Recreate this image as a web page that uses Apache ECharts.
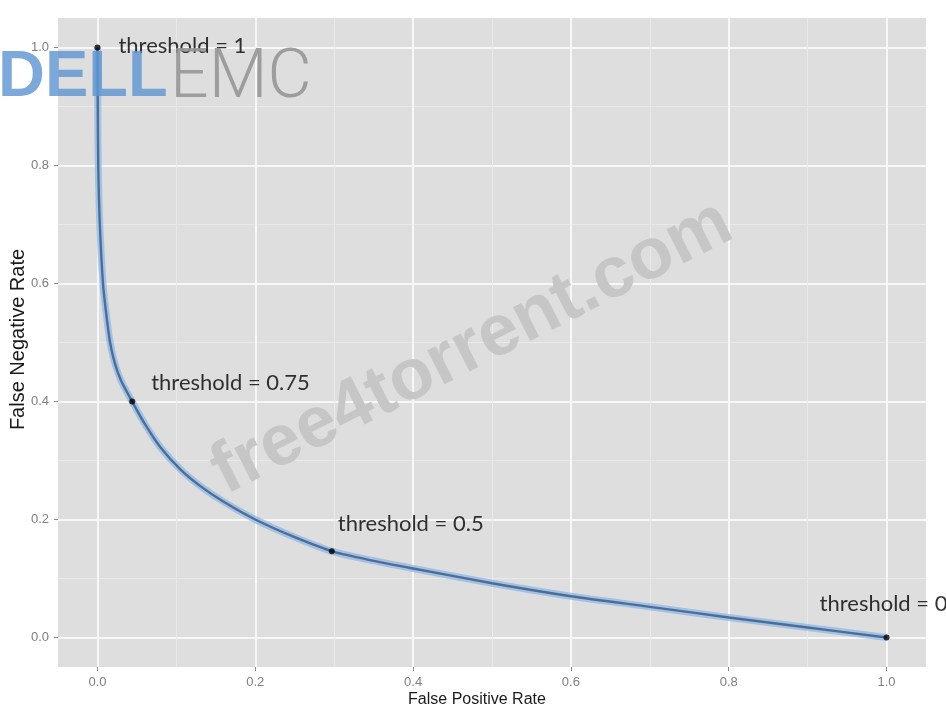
<!DOCTYPE html>
<html>
<head>
<meta charset="utf-8">
<script src="https://cdn.jsdelivr.net/npm/echarts@6/dist/echarts.min.js"></script>
<style>html,body{margin:0;padding:0;background:#fff}#c{width:946px;height:706px}</style>
</head>
<body>
<div id="c"></div>
<script>
// Curve values (False Positive Rate, False Negative Rate)
const fprValues = [0, 0.0004, 0.001, 0.003, 0.007, 0.011, 0.016, 0.022, 0.03, 0.044, 0.06, 0.08, 0.105, 0.13, 0.16, 0.2, 0.25, 0.3, 0.35, 0.4, 0.5, 0.6, 0.7, 0.8, 0.9, 1.0];
const fnrValues = [1.0, 0.9, 0.8, 0.7, 0.6, 0.55, 0.5, 0.465, 0.435, 0.40, 0.362, 0.322, 0.285, 0.257, 0.23, 0.2, 0.17, 0.145, 0.13, 0.117, 0.092, 0.07, 0.052, 0.034, 0.017, 0.0];

// Threshold markers
const thresholdX = [0, 0.044, 0.297, 1.0];
const thresholdY = [1.0, 0.40, 0.146, 0.0];
const thresholdLabels = ['threshold = 1', 'threshold = 0.75', 'threshold = 0.5', 'threshold = 0'];

// Axis ticks
const majorTicks = [0, 0.2, 0.4, 0.6, 0.8, 1.0];
const minorTicks = [0.1, 0.3, 0.5, 0.7, 0.9];

const curve = fprValues.map((x, i) => [x, fnrValues[i]]);
const labelOffsets = [[21, -2], [19, -19], [6, -27], [-67, -34]];
const points = thresholdX.map((x, i) => ({
  value: [x, thresholdY[i]],
  label: {
    show: true, formatter: thresholdLabels[i], position: 'inside',
    align: 'left', verticalAlign: 'middle', offset: labelOffsets[i],
    color: '#000000', fontSize: 22, fontFamily: 'Lato'
  }
}));

const tickLabel = { color: '#7f7f7f', fontSize: 13, fontFamily: 'Liberation Sans', margin: 9 };

function makeAxes(isX) {
  const base = {
    type: 'value', min: -0.05, max: 1.05, gridIndex: 0,
    position: isX ? 'bottom' : 'left', offset: 0,
    axisLine: { show: false, onZero: false }
  };
  const major = Object.assign({}, base, {
    axisTick: { show: true, inside: false, length: 4, lineStyle: { color: '#8a8a8a', width: 1 }, customValues: majorTicks },
    axisLabel: Object.assign({}, tickLabel, { customValues: majorTicks, formatter: v => v.toFixed(1) }),
    splitLine: { show: true, lineStyle: { color: '#f7f7f7', width: 2 } }
  });
  const minor = Object.assign({}, base, {
    axisTick: { show: false, customValues: minorTicks },
    axisLabel: { show: false, customValues: minorTicks },
    splitLine: { show: true, lineStyle: { color: '#e9e9e9', width: 1 } }
  });
  major.nameLocation = 'middle';
  major.nameMoveOverlap = false;
  if (isX) {
    major.name = 'False Positive Rate';
    major.nameGap = 25;
    major.nameTextStyle = { color: '#1a1a1a', fontSize: 16, fontFamily: 'Liberation Sans', padding: [0, 30, 0, 0] };
  } else {
    major.name = 'False Negative Rate';
    major.nameGap = 30;
    major.nameTextStyle = { color: '#1a1a1a', fontSize: 20, fontFamily: 'Liberation Sans', padding: [0, 0, 0, 6] };
  }
  return [minor, major];
}

const chart = echarts.init(document.getElementById('c'), null, { renderer: 'canvas' });
chart.setOption({
  animation: false,
  backgroundColor: '#ffffff',
  grid: { left: 58, right: 20, top: 18, bottom: 39, show: true, backgroundColor: '#dedede', borderWidth: 0,
    containLabel: false, outerBoundsMode: 'none' },
  xAxis: makeAxes(true),
  yAxis: makeAxes(false),
  series: [
    { type: 'line', xAxisIndex: 1, yAxisIndex: 1, data: curve, symbol: 'none', smooth: 0.25, silent: true, z: 2,
      lineStyle: { color: 'rgba(150,185,225,0.8)', width: 7 } },
    { type: 'line', xAxisIndex: 1, yAxisIndex: 1, data: curve, symbol: 'none', smooth: 0.25, silent: true, z: 3,
      lineStyle: { color: '#4a6d9a', width: 2.4 } },
    { type: 'scatter', xAxisIndex: 1, yAxisIndex: 1, data: points, symbol: 'circle', symbolSize: 6, z: 4,
      itemStyle: { color: '#000000' } }
  ],
  graphic: [
    { type: 'text', x: 472, y: 348, rotation: 0.468, z: 10, silent: true,
      style: { text: 'free4torrent.com', align: 'center', verticalAlign: 'middle',
        font: 'bold 72px "Liberation Sans"', fill: '#c6c6c6' } },
    { type: 'text', x: -2, y: 78, z: 10, silent: true,
      style: { text: 'DELL', align: 'left', verticalAlign: 'middle',
        font: 'bold 65px "Liberation Sans"', fill: 'rgba(95,150,210,0.82)' } },
    { type: 'text', x: 170, y: 80, z: 10, silent: true,
      style: { text: 'EMC', align: 'left', verticalAlign: 'middle',
        font: '300 68px Roboto', fill: 'rgba(150,150,150,0.9)' } }
  ]
});
</script>
</body>
</html>
